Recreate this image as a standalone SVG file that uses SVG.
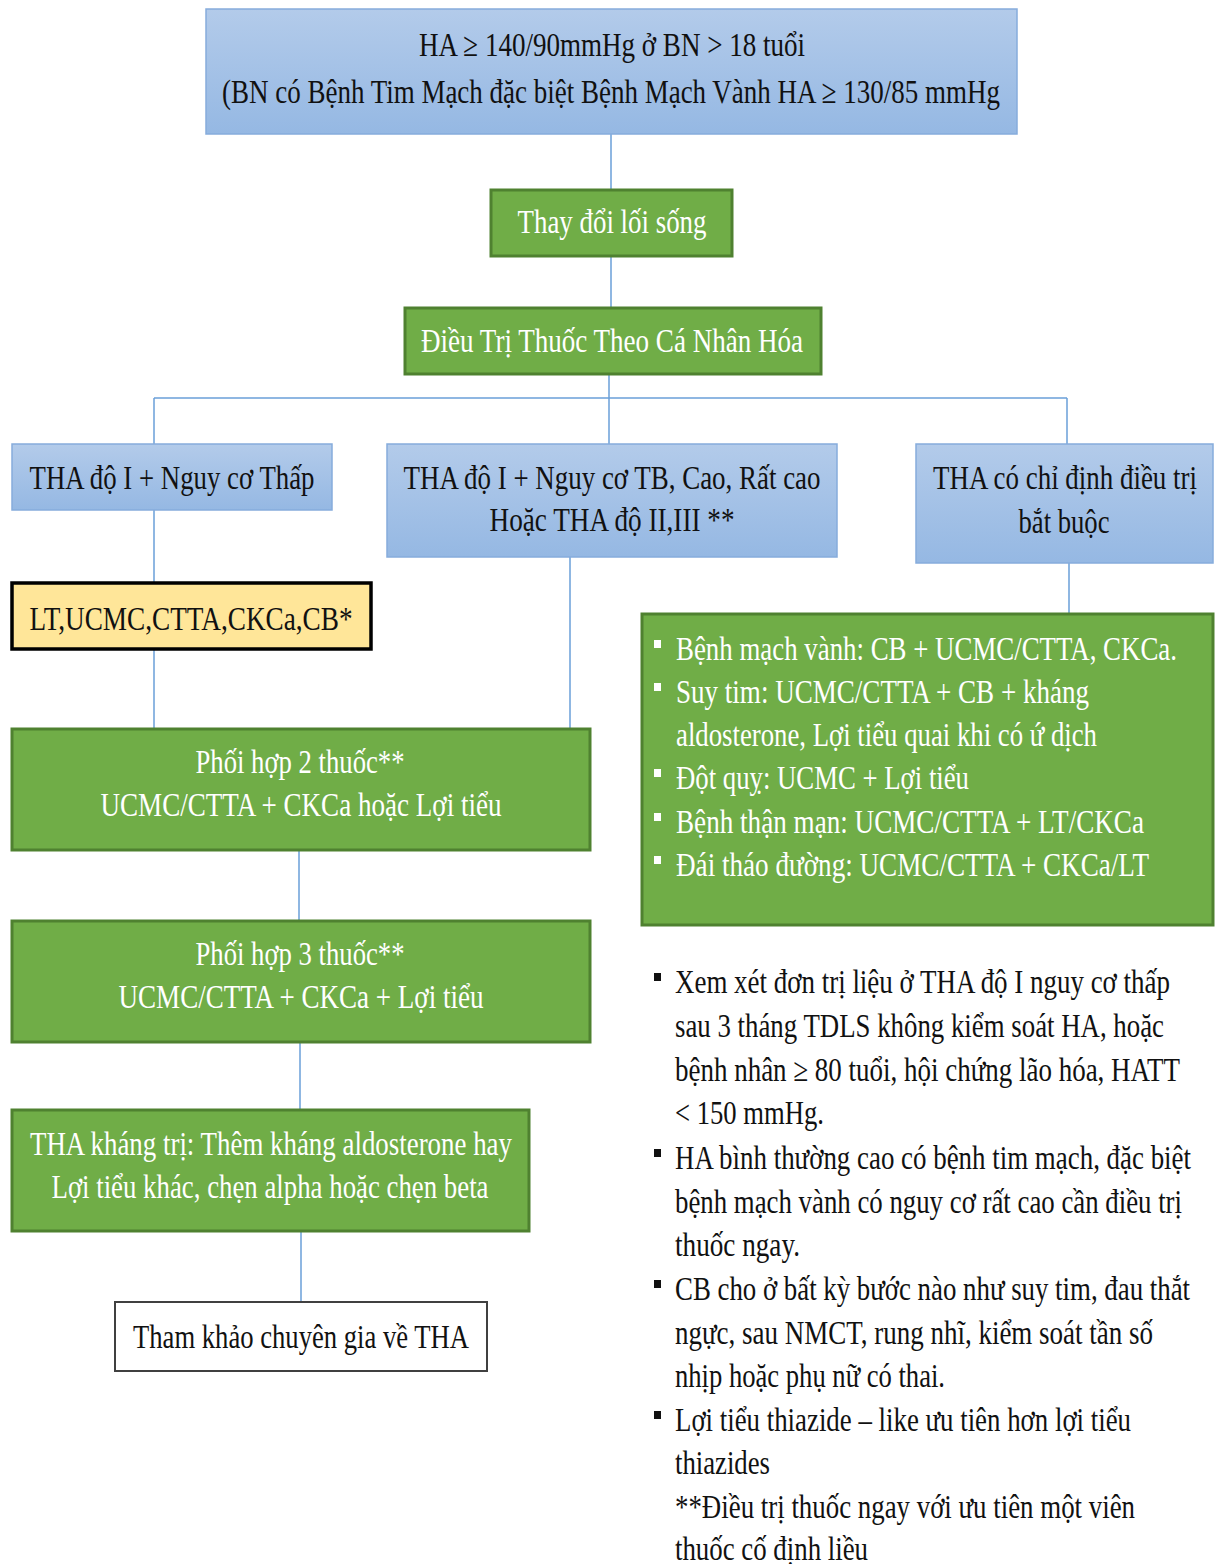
<svg xmlns="http://www.w3.org/2000/svg" width="1221" height="1564" viewBox="0 0 1221 1564">
<defs>
<linearGradient id="blueGrad" x1="0" y1="0" x2="0" y2="1">
<stop offset="0" stop-color="#b3cbea"/>
<stop offset="1" stop-color="#95b8e3"/>
</linearGradient>
<style>
.blue{fill:url(#blueGrad);stroke:#86acdc;stroke-width:1.5}
.green{fill:#70ad47;stroke:#4f8130;stroke-width:3}
.yellow{fill:#ffe699;stroke:#000;stroke-width:3.5}
.white{fill:#fff;stroke:#404040;stroke-width:2}
.t{font-family:"Liberation Serif","Times New Roman",serif;font-size:34px}
.dk{fill:#111}
.wt{fill:#fff}
.c{text-anchor:middle}
.b{font-family:"Liberation Serif","Times New Roman",serif;font-size:33px}
.conn line{stroke:#6a9fd8;stroke-width:1.5;fill:none}
</style>
</defs>
<rect width="1221" height="1564" fill="#fff"/>

<g id="connectors" class="conn">
<line x1="611" y1="134" x2="611" y2="189"/>
<line x1="611" y1="256" x2="611" y2="307"/>
<line x1="609" y1="374" x2="609" y2="444"/>
<line x1="154" y1="398" x2="1067" y2="398"/>
<line x1="154" y1="398" x2="154" y2="444"/>
<line x1="1067" y1="398" x2="1067" y2="444"/>
<line x1="154" y1="510" x2="154" y2="582"/>
<line x1="154" y1="648" x2="154" y2="728"/>
<line x1="570" y1="557" x2="570" y2="728"/>
<line x1="299" y1="850" x2="299" y2="920"/>
<line x1="300" y1="1042" x2="300" y2="1109"/>
<line x1="301" y1="1231" x2="301" y2="1301"/>
<line x1="1069" y1="563" x2="1069" y2="613"/>
</g>

<g id="node-top">
<rect class="blue" x="206" y="9" width="811" height="125"/>
<text class="t dk c" transform="translate(612,56) scale(0.8,1)" textLength="482.5" lengthAdjust="spacingAndGlyphs">HA ≥ 140/90mmHg ở BN &gt; 18 tuổi</text>
<text class="t dk c" transform="translate(611,103) scale(0.8,1)" textLength="972.5" lengthAdjust="spacingAndGlyphs">(BN có Bệnh Tim Mạch đặc biệt Bệnh Mạch Vành HA ≥ 130/85 mmHg</text>
</g>

<g id="node-lifestyle">
<rect class="green" x="491" y="190" width="241" height="66"/>
<text class="t wt c" transform="translate(612,233) scale(0.8,1)" textLength="236.25" lengthAdjust="spacingAndGlyphs">Thay đổi lối sống</text>
</g>

<g id="node-drug">
<rect class="green" x="405" y="308" width="416" height="66"/>
<text class="t wt c" transform="translate(612,352) scale(0.8,1)" textLength="477.5" lengthAdjust="spacingAndGlyphs">Điều Trị Thuốc Theo Cá Nhân Hóa</text>
</g>

<g id="node-low">
<rect class="blue" x="12" y="444" width="320" height="66"/>
<text class="t dk c" transform="translate(172,489) scale(0.8,1)" textLength="356.25" lengthAdjust="spacingAndGlyphs">THA độ I + Nguy cơ Thấp</text>
</g>

<g id="node-mid">
<rect class="blue" x="387" y="444" width="450" height="113"/>
<text class="t dk c" transform="translate(612,489) scale(0.8,1)" textLength="521.25" lengthAdjust="spacingAndGlyphs">THA độ I + Nguy cơ TB, Cao, Rất cao</text>
<text class="t dk c" transform="translate(612,531) scale(0.8,1)" textLength="306.25" lengthAdjust="spacingAndGlyphs">Hoặc THA độ II,III **</text>
</g>

<g id="node-right">
<rect class="blue" x="916" y="444" width="297" height="119"/>
<text class="t dk c" transform="translate(1065,489) scale(0.8,1)" textLength="330" lengthAdjust="spacingAndGlyphs">THA có chỉ định điều trị</text>
<text class="t dk c" transform="translate(1064,533) scale(0.8,1)" textLength="113.75" lengthAdjust="spacingAndGlyphs">bắt buộc</text>
</g>

<g id="node-mono">
<rect class="yellow" x="12" y="583" width="359" height="66"/>
<text class="t dk c" transform="translate(191,630) scale(0.8,1)" textLength="403.75" lengthAdjust="spacingAndGlyphs">LT,UCMC,CTTA,CKCa,CB*</text>
</g>

<g id="node-combo2">
<rect class="green" x="12" y="729" width="578" height="121"/>
<text class="t wt c" transform="translate(300,773) scale(0.8,1)" textLength="261.25" lengthAdjust="spacingAndGlyphs">Phối hợp 2 thuốc**</text>
<text class="t wt c" transform="translate(301,816) scale(0.8,1)" textLength="501.25" lengthAdjust="spacingAndGlyphs">UCMC/CTTA + CKCa hoặc Lợi tiểu</text>
</g>

<g id="node-combo3">
<rect class="green" x="12" y="921" width="578" height="121"/>
<text class="t wt c" transform="translate(300,965) scale(0.8,1)" textLength="261.25" lengthAdjust="spacingAndGlyphs">Phối hợp 3 thuốc**</text>
<text class="t wt c" transform="translate(301,1008) scale(0.8,1)" textLength="456.25" lengthAdjust="spacingAndGlyphs">UCMC/CTTA + CKCa + Lợi tiểu</text>
</g>

<g id="node-resistant">
<rect class="green" x="12" y="1110" width="517" height="121"/>
<text class="t wt c" transform="translate(271,1155) scale(0.8,1)" textLength="602.5" lengthAdjust="spacingAndGlyphs">THA kháng trị: Thêm kháng aldosterone hay</text>
<text class="t wt c" transform="translate(270,1198) scale(0.8,1)" textLength="546.25" lengthAdjust="spacingAndGlyphs">Lợi tiểu khác, chẹn alpha hoặc chẹn beta</text>
</g>

<g id="node-expert">
<rect class="white" x="115" y="1302" width="372" height="69"/>
<text class="t dk c" transform="translate(301,1348) scale(0.8,1)" textLength="420" lengthAdjust="spacingAndGlyphs">Tham khảo chuyên gia về THA</text>
</g>

<g id="node-compelling">
<rect class="green" x="642" y="614" width="571" height="311"/>
<g fill="#fff">
<rect x="654" y="640" width="7" height="8"/>
<rect x="654" y="683" width="7" height="8"/>
<rect x="654" y="769" width="7" height="8"/>
<rect x="654" y="813" width="7" height="8"/>
<rect x="654" y="856" width="7" height="8"/>
</g>
<text class="b wt" transform="translate(676,660) scale(0.8,1)" textLength="626.25" lengthAdjust="spacingAndGlyphs">Bệnh mạch vành: CB + UCMC/CTTA, CKCa.</text>
<text class="b wt" transform="translate(676,703) scale(0.8,1)" textLength="516.25" lengthAdjust="spacingAndGlyphs">Suy tim: UCMC/CTTA + CB + kháng</text>
<text class="b wt" transform="translate(676,746) scale(0.8,1)" textLength="526.25" lengthAdjust="spacingAndGlyphs">aldosterone, Lợi tiểu quai khi có ứ dịch</text>
<text class="b wt" transform="translate(676,789) scale(0.8,1)" textLength="366.25" lengthAdjust="spacingAndGlyphs">Đột quỵ: UCMC + Lợi tiểu</text>
<text class="b wt" transform="translate(676,833) scale(0.8,1)" textLength="585" lengthAdjust="spacingAndGlyphs">Bệnh thận mạn: UCMC/CTTA + LT/CKCa</text>
<text class="b wt" transform="translate(676,876) scale(0.8,1)" textLength="591.25" lengthAdjust="spacingAndGlyphs">Đái tháo đường: UCMC/CTTA + CKCa/LT</text>
</g>

<g id="notes">
<g fill="#111">
<rect x="654" y="973" width="7" height="8"/>
<rect x="654" y="1149" width="7" height="8"/>
<rect x="654" y="1280" width="7" height="8"/>
<rect x="654" y="1411" width="7" height="8"/>
</g>
<text class="b dk" transform="translate(675,993) scale(0.8,1)" textLength="618.75" lengthAdjust="spacingAndGlyphs">Xem xét đơn trị liệu ở THA độ I nguy cơ thấp</text>
<text class="b dk" transform="translate(675,1037) scale(0.8,1)" textLength="611.25" lengthAdjust="spacingAndGlyphs">sau 3 tháng TDLS không kiểm soát HA, hoặc</text>
<text class="b dk" transform="translate(675,1081) scale(0.8,1)" textLength="631.25" lengthAdjust="spacingAndGlyphs">bệnh nhân ≥ 80 tuổi, hội chứng lão hóa, HATT</text>
<text class="b dk" transform="translate(675,1124) scale(0.8,1)" textLength="186.25" lengthAdjust="spacingAndGlyphs">&lt; 150 mmHg.</text>
<text class="b dk" transform="translate(675,1169) scale(0.8,1)" textLength="645" lengthAdjust="spacingAndGlyphs">HA bình thường cao có bệnh tim mạch, đặc biệt</text>
<text class="b dk" transform="translate(675,1213) scale(0.8,1)" textLength="633.75" lengthAdjust="spacingAndGlyphs">bệnh mạch vành có nguy cơ rất cao cần điều trị</text>
<text class="b dk" transform="translate(675,1256) scale(0.8,1)" textLength="156.25" lengthAdjust="spacingAndGlyphs">thuốc ngay.</text>
<text class="b dk" transform="translate(675,1300) scale(0.8,1)" textLength="643.75" lengthAdjust="spacingAndGlyphs">CB cho ở bất kỳ bước nào như suy tim, đau thắt</text>
<text class="b dk" transform="translate(675,1344) scale(0.8,1)" textLength="597.5" lengthAdjust="spacingAndGlyphs">ngực, sau NMCT, rung nhĩ, kiểm soát tần số</text>
<text class="b dk" transform="translate(675,1387) scale(0.8,1)" textLength="337.5" lengthAdjust="spacingAndGlyphs">nhịp hoặc phụ nữ có thai.</text>
<text class="b dk" transform="translate(675,1431) scale(0.8,1)" textLength="570" lengthAdjust="spacingAndGlyphs">Lợi tiểu thiazide – like ưu tiên hơn lợi tiểu</text>
<text class="b dk" transform="translate(675,1474) scale(0.8,1)" textLength="118.75" lengthAdjust="spacingAndGlyphs">thiazides</text>
<text class="b dk" transform="translate(675,1518) scale(0.8,1)" textLength="575" lengthAdjust="spacingAndGlyphs">**Điều trị thuốc ngay với ưu tiên một viên</text>
<text class="b dk" transform="translate(675,1560) scale(0.8,1)" textLength="241.25" lengthAdjust="spacingAndGlyphs">thuốc cố định liều</text>
</g>
</svg>
